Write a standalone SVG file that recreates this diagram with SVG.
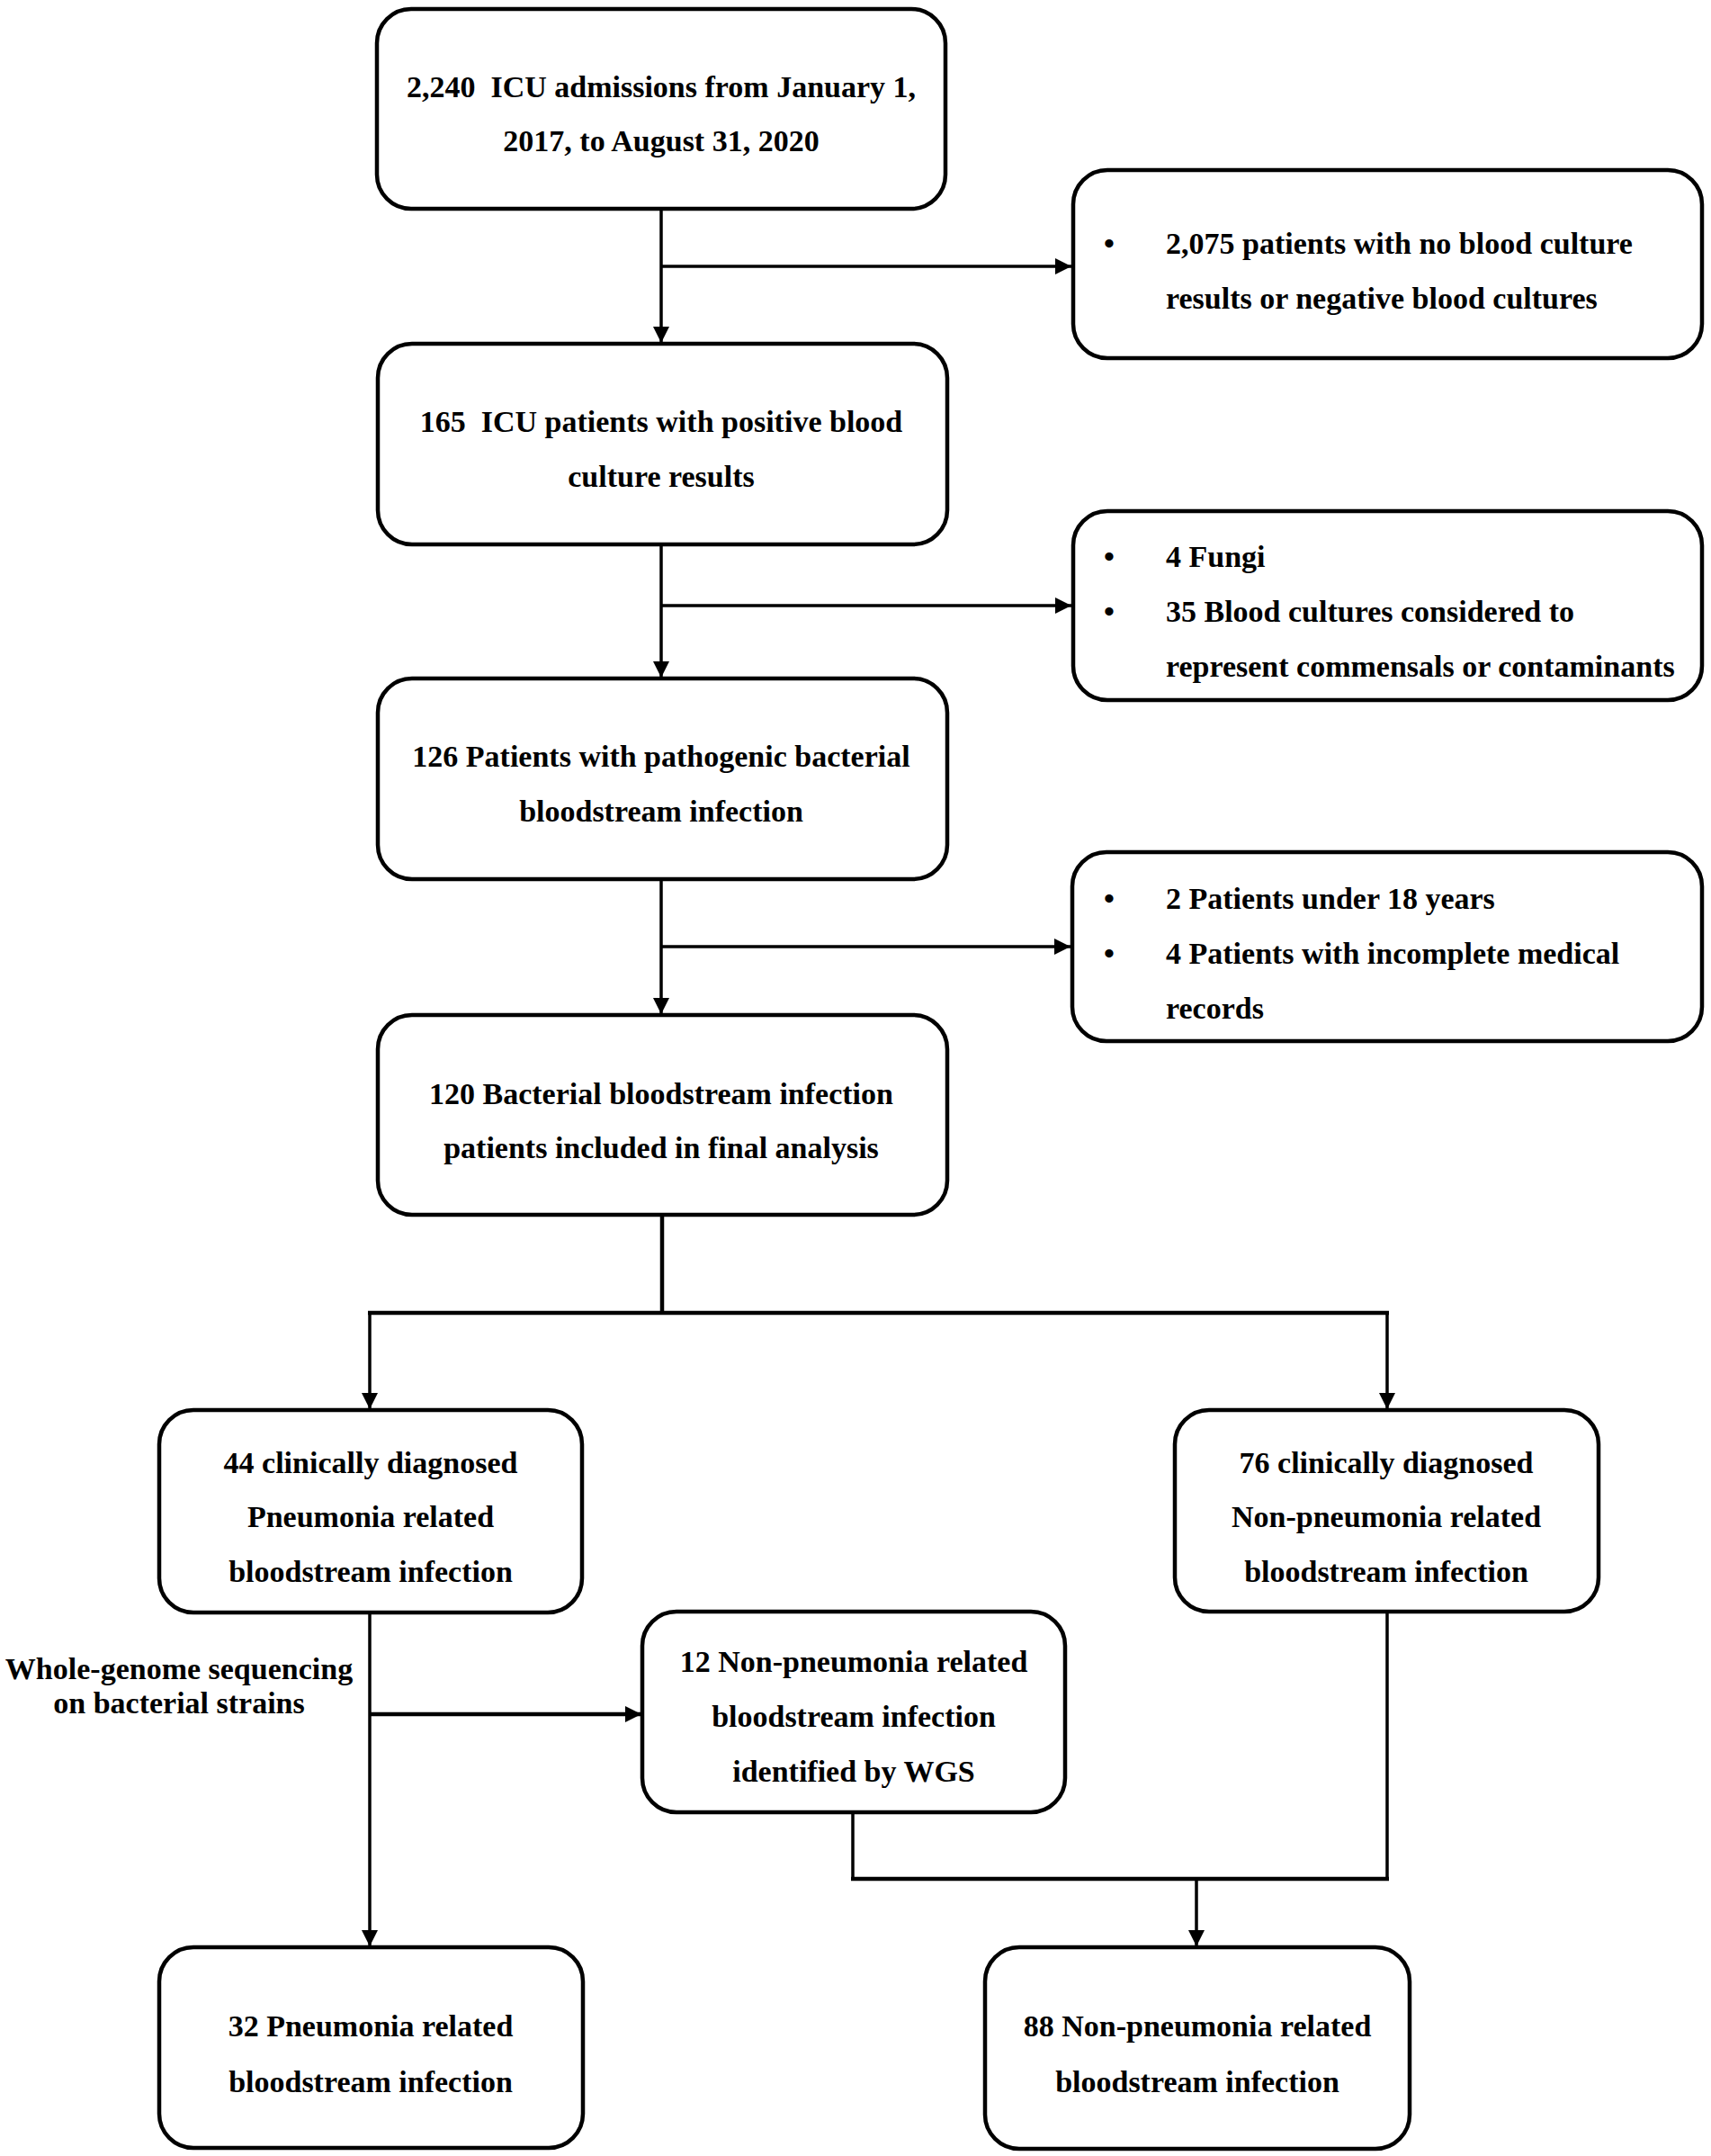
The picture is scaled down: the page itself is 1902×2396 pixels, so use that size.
<svg xmlns="http://www.w3.org/2000/svg" width="1902" height="2396" viewBox="0 0 1902 2396">
<style>
.box{fill:#fff;stroke:#000;stroke-width:4.5}
.ln{fill:none;stroke:#000;stroke-width:3.5}
.lnb{fill:none;stroke:#000;stroke-width:4.5}
text{font-family:"Liberation Serif","Times New Roman",serif;font-weight:bold;font-size:34px;fill:#000}
.c{text-anchor:middle}
.pre{white-space:pre}
</style>
<defs>
<marker id="ah" markerUnits="userSpaceOnUse" markerWidth="19" markerHeight="18" refX="18" refY="9" orient="auto">
<path d="M0,0 L18,9 L0,18 z" fill="#000"/>
</marker>
</defs>
<rect width="1902" height="2396" fill="#fff"/>
<g id="connectors">
<path class="ln" d="M735,232 V381" marker-end="url(#ah)"/>
<path class="ln" d="M735,296 H1191" marker-end="url(#ah)"/>
<path class="ln" d="M735,605 V753" marker-end="url(#ah)"/>
<path class="ln" d="M735,673 H1191" marker-end="url(#ah)"/>
<path class="ln" d="M735,977 V1127" marker-end="url(#ah)"/>
<path class="ln" d="M735,1052 H1190" marker-end="url(#ah)"/>
<path class="lnb" d="M736,1350 V1459"/>
<path class="lnb" d="M409,1459 H1544"/>
<path class="ln" d="M411,1459 V1566" marker-end="url(#ah)"/>
<path class="ln" d="M1542,1459 V1566" marker-end="url(#ah)"/>
<path class="ln" d="M411,1792 V2163" marker-end="url(#ah)"/>
<path class="lnb" d="M411,1905 H713" marker-end="url(#ah)"/>
<path class="ln" d="M948,2014 V2088"/>
<path class="ln" d="M1542,1791 V2088"/>
<path class="lnb" d="M946,2088 H1544"/>
<path class="ln" d="M1330,2088 V2163" marker-end="url(#ah)"/>
</g>
<g id="n1"><rect class="box" x="419" y="10" width="632" height="222" rx="38"/>
<text class="c pre" x="735" y="108" xml:space="preserve">2,240  ICU admissions from January 1,</text>
<text class="c" x="735" y="168">2017, to August 31, 2020</text></g>
<g id="n2"><rect class="box" x="1193" y="189" width="699" height="209" rx="38"/>
<text class="c" x="1233" y="282">•</text><text x="1296" y="282">2,075 patients with no blood culture</text>
<text x="1296" y="343">results or negative blood cultures</text></g>
<g id="n3"><rect class="box" x="420" y="382" width="633" height="223" rx="38"/>
<text class="c pre" x="735" y="480" xml:space="preserve">165  ICU patients with positive blood</text>
<text class="c" x="735" y="541">culture results</text></g>
<g id="n4"><rect class="box" x="1193" y="568" width="699" height="210" rx="38"/>
<text class="c" x="1233" y="630">•</text><text x="1296" y="630">4 Fungi</text>
<text class="c" x="1233" y="691">•</text><text x="1296" y="691">35 Blood cultures considered to</text>
<text x="1296" y="752">represent commensals or contaminants</text></g>
<g id="n5"><rect class="box" x="420" y="754" width="633" height="223" rx="38"/>
<text class="c" x="735" y="852">126 Patients with pathogenic bacterial</text>
<text class="c" x="735" y="913">bloodstream infection</text></g>
<g id="n6"><rect class="box" x="1192" y="947" width="700" height="210" rx="38"/>
<text class="c" x="1233" y="1010">•</text><text x="1296" y="1010">2 Patients under 18 years</text>
<text class="c" x="1233" y="1071">•</text><text x="1296" y="1071">4 Patients with incomplete medical</text>
<text x="1296" y="1132">records</text></g>
<g id="n7"><rect class="box" x="420" y="1128" width="633" height="222" rx="38"/>
<text class="c" x="735" y="1227">120 Bacterial bloodstream infection</text>
<text class="c" x="735" y="1287">patients included in final analysis</text></g>
<g id="n8"><rect class="box" x="177" y="1567" width="470" height="225" rx="38"/>
<text class="c" x="412" y="1637">44 clinically diagnosed</text>
<text class="c" x="412" y="1697">Pneumonia related</text>
<text class="c" x="412" y="1758">bloodstream infection</text></g>
<g id="n9"><rect class="box" x="1306" y="1567" width="471" height="224" rx="38"/>
<text class="c" x="1541" y="1637">76 clinically diagnosed</text>
<text class="c" x="1541" y="1697">Non-pneumonia related</text>
<text class="c" x="1541" y="1758">bloodstream infection</text></g>
<g id="lbl"><text class="c" x="199" y="1866">Whole-genome sequencing</text>
<text class="c" x="199" y="1904">on bacterial strains</text></g>
<g id="n10"><rect class="box" x="714" y="1791" width="470" height="223" rx="38"/>
<text class="c" x="949" y="1858">12 Non-pneumonia related</text>
<text class="c" x="949" y="1919">bloodstream infection</text>
<text class="c" x="949" y="1980">identified by WGS</text></g>
<g id="n11"><rect class="box" x="177" y="2164" width="471" height="223" rx="38"/>
<text class="c" x="412" y="2263">32 Pneumonia related</text>
<text class="c" x="412" y="2325">bloodstream infection</text></g>
<g id="n12"><rect class="box" x="1095" y="2164" width="472" height="224" rx="38"/>
<text class="c" x="1331" y="2263">88 Non-pneumonia related</text>
<text class="c" x="1331" y="2325">bloodstream infection</text></g>
</svg>
